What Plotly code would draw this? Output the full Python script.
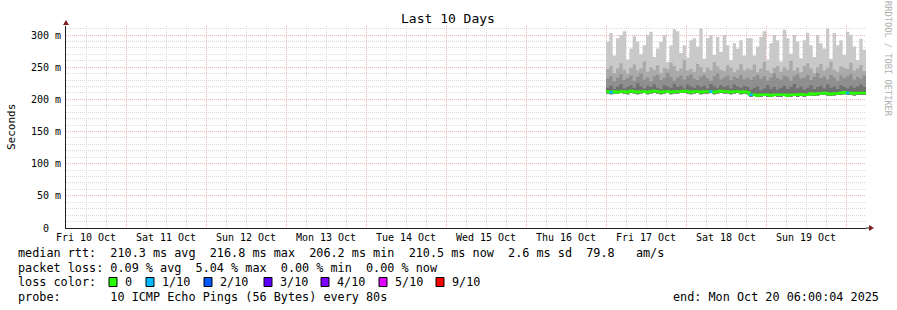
import plotly.graph_objects as go
import pandas as pd

# ---------------- data (hourly, Fri 17 Oct 00:00 .. Mon 20 Oct 06:00) ----------------
start_time = "2025-10-17 00:00"
n_hours = 78

median_ms = [212, 211, 212, 211, 212, 212, 211, 213, 212, 211, 212, 212, 211, 212, 213, 212, 211, 212, 212, 211,
             212, 212, 212, 213, 212, 211, 212, 212, 211, 212, 212, 212, 211, 212, 213, 212, 212, 211, 212, 212,
             211, 212, 211,
             207, 207, 206, 207, 207, 207, 206, 207, 207, 207, 207, 206, 207, 207, 207, 208, 207, 207,
             209, 208, 209, 209, 210, 209, 208, 209, 209, 210, 211, 210, 210, 209, 210, 210, 210]

min_ms = [209, 208, 209, 209, 210, 209, 208, 210, 209, 208, 209, 210, 208, 209, 210, 209, 208, 209, 210, 208,
          209, 209, 210, 210, 209, 208, 209, 210, 208, 209, 209, 210, 208, 209, 210, 209, 209, 208, 209, 210,
          208, 209, 208,
          204, 205, 204, 204, 205, 204, 204, 205, 204, 204, 205, 204, 204, 205, 204, 205, 204, 205,
          206, 205, 206, 207, 207, 206, 205, 206, 207, 207, 208, 207, 207, 206, 207, 207, 207]

smoke_q1 = [218, 221, 216, 220, 224, 217, 219, 222, 218, 225, 220, 217, 221, 219, 223, 218, 216, 222, 220, 218,
            224, 219, 221, 217, 223, 220, 218, 222, 219, 221, 217, 224, 220, 218, 222, 219, 221, 217, 223, 220,
            218, 221, 219,
            215, 218, 220, 214, 217, 222, 216, 219, 215, 218, 221, 216, 219, 224, 217, 220, 215, 218,
            222, 216, 219, 221, 217, 223, 218, 220, 216, 222, 219, 217, 221, 218, 220, 223, 219]

smoke_q2 = [232, 236, 228, 234, 239, 230, 233, 237, 229, 235, 240, 231, 234, 228, 236, 238, 230, 233, 241, 235,
            229, 234, 237, 231, 236, 239, 232, 230, 235, 238, 233, 229, 236, 240, 231, 234, 237, 230, 235, 233,
            238, 231, 234,
            230, 235, 238, 232, 236, 229, 234, 240, 233, 231, 237, 235, 229, 236, 239, 232, 234, 238,
            230, 235, 241, 233, 236, 231, 238, 234, 229, 237, 233, 236, 239, 231, 235, 232, 237]

smoke_q3 = [247, 252, 241, 248, 256, 246, 240, 249, 254, 245, 248, 259, 243, 250, 246, 253, 241, 249, 247, 257,
            252, 244, 248, 261, 245, 247, 243, 255, 250, 242, 249, 245, 258, 251, 246, 244, 253, 249, 242, 246,
            255, 245, 248,
            246, 254, 242, 248, 258, 245, 241, 249, 252, 243, 250, 246, 260, 245, 249, 242, 252, 256,
            248, 241, 250, 255, 245, 249, 259, 246, 243, 251, 249, 247, 257, 245, 248, 253, 244]

max_ms = [290, 303, 268, 295, 300, 306, 262, 279, 298, 290, 270, 284, 300, 305, 266, 279, 289, 300, 258, 284,
          309, 306, 272, 284, 265, 292, 295, 282, 310, 263, 295, 300, 269, 297, 274, 300, 284, 261, 287, 279,
          292, 268, 295,
          295, 268, 282, 297, 306, 262, 287, 300, 292, 259, 308, 295, 271, 300, 290, 264, 292, 303,
          284, 266, 300, 287, 279, 310, 263, 303, 284, 292, 269, 305, 300, 282, 261, 294, 277]

loss_hours = [1, 31, 43, 72]
loss_pings = [1, 1, 1, 1]

y_tick_vals = [0, 50, 100, 150, 200, 250, 300]
y_tick_text = ["0\u00a0\u00a0", "50 m", "100 m", "150 m", "200 m", "250 m", "300 m"]

loss_labels = ["0", "1/10", "2/10", "3/10", "4/10", "5/10", "9/10"]
loss_colors = ["#26ff00", "#00b8ff", "#0059ff", "#5e00ff", "#7e00ff", "#dd00ff", "#ff0000"]

legend_rows = [
    "median rtt:  210.3 ms avg  216.8 ms max  206.2 ms min  210.5 ms now  2.6 ms sd  79.8   am/s",
    "packet loss: 0.09 % avg  5.04 % max  0.00 % min  0.00 % now",
    "loss color:",
    "probe:       10 ICMP Echo Pings (56 Bytes) every 80s",
]
end_text = "end: Mon Oct 20 06:00:04 2025"

# ---------------- geometry helpers ----------------
W, H = 897, 310
PL, PR, PT, PB = 66, 866, 26, 228


def px(x):
    return (x - PL) / (PR - PL)


def py(y):
    return (PB - y) / (PB - PT)


MONO = "DejaVu Sans Mono"
times = list(pd.date_range(start_time, periods=n_hours + 1, freq="h"))


def ext(vals):
    return list(vals) + [vals[-1]]


fig = go.Figure()

smoke = [(max_ms, "#c9c9c9"), (smoke_q3, "#aaaaaa"), (smoke_q2, "#8f8f8f"), (smoke_q1, "#707070")]
for top, col in smoke:
    fig.add_trace(go.Scatter(x=times, y=ext(min_ms), mode="lines", line=dict(width=0, shape="hv"),
                             hoverinfo="skip", showlegend=False))
    fig.add_trace(go.Scatter(x=times, y=ext(top), mode="lines", line=dict(width=0, shape="hv"),
                             fill="tonexty", fillcolor=col, hoverinfo="skip", showlegend=False))

fig.add_trace(go.Scatter(x=times, y=ext(median_ms), mode="lines",
                         line=dict(color=loss_colors[0], width=2.5, shape="hv"), showlegend=False))
for h, n in zip(loss_hours, loss_pings):
    fig.add_trace(go.Scatter(x=[times[h], times[h + 1]], y=[median_ms[h], median_ms[h]], mode="lines",
                             line=dict(color=loss_colors[n], width=2.5), showlegend=False))

grid_minor = "#dadada"
grid_major = "#f0b4b4"
axis_col = "#1f1f1f"

fig.update_layout(
    width=W, height=H,
    margin=dict(l=PL, r=W - PR, t=PT, b=H - PB),
    paper_bgcolor="white", plot_bgcolor="white",
    showlegend=False,
    font=dict(family=MONO, color="black"),
    xaxis=dict(
        type="date",
        range=["2025-10-10 06:00", "2025-10-20 06:00"],
        tick0="2025-10-10 00:00", dtick=86400000,
        ticklabelmode="period", tickformat="%a %d Oct",
        tickfont=dict(family=MONO, size=10, color="black"),
        showgrid=True, gridcolor=grid_major, griddash="1px,1px", gridwidth=1,
        minor=dict(dtick=6 * 3600 * 1000, showgrid=True, gridcolor=grid_minor, griddash="1px,1px"),
        showline=True, linecolor=axis_col, linewidth=1,
        ticks="", zeroline=False, fixedrange=True,
    ),
    yaxis=dict(
        range=[0, 314],
        tickvals=y_tick_vals, ticktext=y_tick_text,
        tickfont=dict(family=MONO, size=10, color="black"),
        showgrid=True, gridcolor=grid_major, griddash="1px,1px", gridwidth=1,
        minor=dict(dtick=10, showgrid=True, gridcolor=grid_minor, griddash="1px,1px"),
        ticks="", ticklabelstandoff=2,
        showline=True, linecolor=axis_col, linewidth=1,
        zeroline=False, fixedrange=True,
    ),
)

annotations = [
    dict(text="Last 10 Days", x=px(448), y=py(19), font=dict(family=MONO, size=13, color="black"),
         xanchor="center", yanchor="middle"),
    dict(text="Seconds", x=px(11), y=py(127), textangle=-90, font=dict(family=MONO, size=11, color="black"),
         xanchor="center", yanchor="middle"),
    dict(text="RRDTOOL / TOBI OETIKER", x=px(888), y=py(59), textangle=90,
         font=dict(family=MONO, size=8.7, color="#b0b0b0"), xanchor="center", yanchor="middle"),
]
row_y = [253.5, 268, 282, 296.5]
for txt, ry in zip(legend_rows, row_y):
    annotations.append(dict(text=txt.replace(" ", "\u00a0"), x=px(16), y=py(ry), xanchor="left",
                            yanchor="middle", font=dict(family=MONO, size=11.8, color="black")))
annotations.append(dict(text=end_text.replace(" ", "\u00a0"), x=px(881), y=py(296.5), xanchor="right",
                        yanchor="middle", font=dict(family=MONO, size=11.8, color="black")))

label_left = [123, 160, 218, 278, 335, 393, 450]
shapes = []
for lab, col, lx in zip(loss_labels, loss_colors, label_left):
    annotations.append(dict(text=lab.replace(" ", "\u00a0"), x=px(lx), y=py(282), xanchor="left",
                            yanchor="middle", font=dict(family=MONO, size=11.8, color="black")))
    sx = lx - 14
    shapes.append(dict(type="rect", xref="paper", yref="paper", x0=px(sx), x1=px(sx + 8),
                       y0=py(286.5), y1=py(277.5), fillcolor=col, line=dict(color="black", width=1)))

for a in annotations:
    a.setdefault("xref", "paper")
    a.setdefault("yref", "paper")
    a["showarrow"] = False

arrow_col = "#801f1f"
# y-axis arrow (top) and x-axis arrow (right)
shapes.append(dict(type="path", xref="paper", yref="paper",
                   path=f"M {px(63)} {py(25)} L {px(69)} {py(25)} L {px(66)} {py(20)} Z",
                   fillcolor=arrow_col, line=dict(color=arrow_col, width=0)))
shapes.append(dict(type="line", xref="paper", yref="paper", x0=px(866), x1=px(870), y0=py(228), y1=py(228),
                   line=dict(color=axis_col, width=1)))
shapes.append(dict(type="path", xref="paper", yref="paper",
                   path=f"M {px(869)} {py(225)} L {px(869)} {py(231)} L {px(874)} {py(228)} Z",
                   fillcolor=arrow_col, line=dict(color=arrow_col, width=0)))

fig.update_layout(annotations=annotations, shapes=shapes)

fig.write_html("out.html")
